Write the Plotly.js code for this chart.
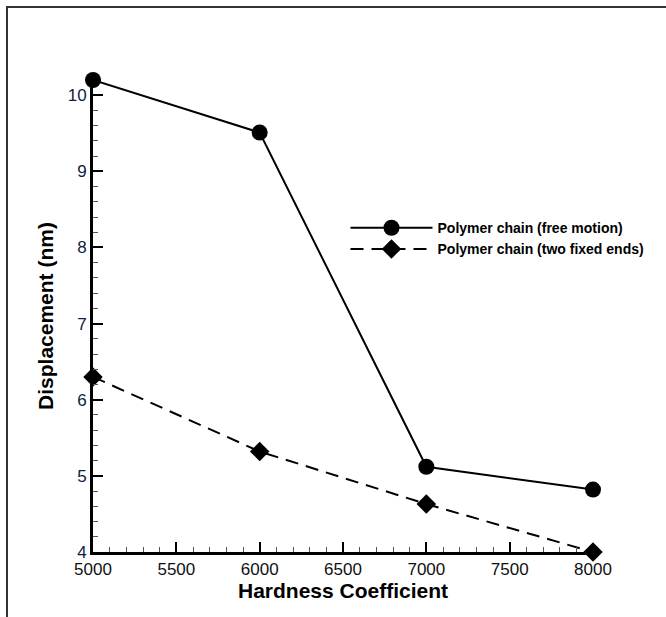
<!DOCTYPE html>
<html>
<head>
<meta charset="utf-8">
<script src="https://cdn.plot.ly/plotly-3.0.1.min.js"></script>
<style>
html,body{margin:0;padding:0;background:#fff;}
#frame{position:absolute;left:6px;top:6px;width:660px;height:611px;border-top:2px solid #333;border-left:2px solid #333;box-sizing:border-box;pointer-events:none;z-index:5;}
#chart{position:absolute;left:0;top:0;width:666px;height:617px;}
</style>
</head>
<body>
<div id="chart"></div>
<div id="frame"></div>
<script>
const hardness = [5000, 6000, 7000, 8000];
const freeMotion = [10.2, 9.51, 5.12, 4.82];
const fixedEnds = [6.3, 5.32, 4.63, 4.0];
const seriesNames = ['Polymer chain (free motion)', 'Polymer chain (two fixed ends)'];
const xTicks = [5000, 5500, 6000, 6500, 7000, 7500, 8000];
const yTicks = [4, 5, 6, 7, 8, 9, 10];

const font = 'Liberation Sans, Arial, sans-serif';

const traces = [
  {
    x: hardness, y: freeMotion, name: seriesNames[0],
    type: 'scatter', mode: 'lines+markers', cliponaxis: false,
    line: {color: '#000', width: 2, dash: 'solid'},
    marker: {symbol: 'circle', size: 16, color: '#000', line: {width: 0}}
  },
  {
    x: hardness, y: fixedEnds, name: seriesNames[1],
    type: 'scatter', mode: 'lines+markers', cliponaxis: false,
    line: {color: '#000', width: 2, dash: '13px,8px'},
    marker: {symbol: 'diamond', size: 15, color: '#000', line: {width: 0}}
  }
];

const layout = {
  width: 666, height: 617,
  margin: {l: 93, r: 73, t: 80, b: 65, pad: 0},
  paper_bgcolor: '#fff', plot_bgcolor: '#fff',
  showlegend: true,
  font: {family: font, color: '#000'},
  xaxis: {
    range: [5000, 8000],
    tickvals: xTicks, ticktext: xTicks.map(String),
    ticks: 'inside', ticklen: 10, tickwidth: 2, tickcolor: '#000',
    minor: {dtick: 100, ticks: 'inside', ticklen: 5, tickwidth: 1, tickcolor: '#555'},
    showline: true, linecolor: '#000', linewidth: 3,
    showgrid: false, zeroline: false,
    tickfont: {family: font, size: 17, color: '#111'},
    title: {text: 'Hardness Coefficient', font: {family: font, size: 21, weight: 'bold', color: '#000'}, standoff: 0}
  },
  yaxis: {
    range: [4, 10.2],
    tickvals: yTicks, ticktext: yTicks.map(String),
    ticks: 'inside', ticklen: 10, tickwidth: 2, tickcolor: '#000',
    minor: {dtick: 0.2, ticks: 'inside', ticklen: 5, tickwidth: 1, tickcolor: '#555'},
    showline: true, linecolor: '#000', linewidth: 3,
    showgrid: false, zeroline: false,
    tickfont: {family: font, size: 17, color: '#0f2140'},
    title: {text: 'Displacement (nm)', font: {family: font, size: 21, weight: 'bold', color: '#000'}, standoff: 9}
  },
  legend: {
    x: 0.505, y: 0.72, xanchor: 'left', yanchor: 'top',
    xref: 'paper', yref: 'paper',
    bgcolor: 'rgba(0,0,0,0)', borderwidth: 0,
    itemwidth: 82, tracegroupgap: 0,
    font: {family: font, size: 14, weight: 'bold', color: '#000'}
  }
};

Plotly.newPlot('chart', traces, layout, {displayModeBar: false, staticPlot: true});
</script>
</body>
</html>
